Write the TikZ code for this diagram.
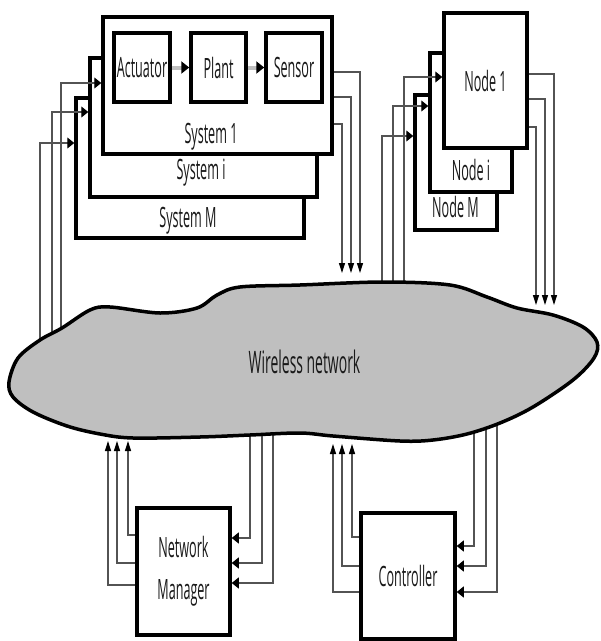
\documentclass[tikz,border=0pt]{standalone}
\usepackage{fontspec}
\setmainfont{Open Sans}[FakeStretch=0.45]
\usetikzlibrary{arrows.meta,positioning,calc}

\begin{document}
\begin{tikzpicture}[x=1pt, y=-1pt,
    box/.style={draw=black, fill=white, line width=3.5pt, inner sep=0pt, font=\fontsize{28}{42}\selectfont, text=gray!20!black, align=center},
    lbl/.style={font=\fontsize{28}{42}\selectfont, text=gray!20!black, anchor=base, inner sep=0pt},
    feed/.style={draw=gray!65!black, line width=1.2pt},
    hin/.style={-{Triangle[length=7pt, width=11pt, color=black]}},
    vin/.style={-{Triangle[length=10pt, width=6pt, color=black]}},
    sigflow/.style={draw=gray!50, line width=4pt, -{Triangle[length=8pt, width=12pt, color=black]}}
]
    \useasboundingbox (0,0) rectangle (601,641);

    % Stack of systems
    \node[box, minimum width=228pt, minimum height=140pt] (sysM) at (190,168) {};
    \node[box, minimum width=227pt, minimum height=139pt] (sysi) at (203.5,127.5) {};
    \node[box, minimum width=229pt, minimum height=137pt] (sys1) at (217.5,85.5) {};
    \node[lbl] (lsys1) at (211,143) {System 1};
    \node[lbl] (lsysi) at (201,179) {System i};
    \node[lbl] (lsysM) at (188,227) {System M};

    % Loop inside system 1
    \node[box, minimum width=56pt, minimum height=69pt] (act) at (142,67.5) {Actuator};
    \node[box, minimum width=55pt, minimum height=69pt] (plant) at (218.5,67.5) {Plant};
    \node[box, minimum width=56pt, minimum height=69pt] (sensor) at (294,67.5) {Sensor};
    \draw[sigflow] (act) -- (plant);
    \draw[sigflow] (plant) -- (sensor);

    % Stack of nodes
    \node[box, minimum width=82pt, minimum height=135pt] (nodeM) at (456,162.5) {};
    \node[box, minimum width=82pt, minimum height=139pt] (nodei) at (471,122.5) {};
    \node[box, minimum width=83pt, minimum height=135pt] (node1) at (485.5,80.5) {Node 1};
    \node[lbl] (lnodei) at (471,180) {Node i};
    \node[lbl] (lnodeM) at (455.5,217) {Node M};

    % Manager and controller
    \node[box, minimum width=93pt, minimum height=127pt] (nm) at (183.5,571.5) {Network\\Manager};
    \node[box, minimum width=94pt, minimum height=126pt] (ctl) at (408,576) {Controller};

    % Ends on the cloud
    \coordinate (si1) at (61,362);  \coordinate (si2) at (52,362);  \coordinate (si3) at (40,362);
    \coordinate (so1) at (360,273); \coordinate (so2) at (351,273); \coordinate (so3) at (342,273);
    \coordinate (ni1) at (404,362); \coordinate (ni2) at (393,362); \coordinate (ni3) at (382,362);
    \coordinate (no1) at (554,305); \coordinate (no2) at (545,305); \coordinate (no3) at (536,305);
    \coordinate (mo1) at (128,441); \coordinate (mo2) at (117,441); \coordinate (mo3) at (108,441);
    \coordinate (mi1) at (250,362); \coordinate (mi2) at (262,362); \coordinate (mi3) at (273,362);
    \coordinate (co1) at (352,444); \coordinate (co2) at (342,444); \coordinate (co3) at (333,444);
    \coordinate (ci1) at (474,362); \coordinate (ci2) at (486,362); \coordinate (ci3) at (497,362);

    % Systems <-> network
    \draw[feed, hin] (si1) |- ([yshift=2.5pt]sys1.west);
    \draw[feed, hin] (si2) |- ([yshift=15.5pt]sysi.west);
    \draw[feed, hin] (si3) |- ([yshift=25pt]sysM.west);
    \draw[feed, vin] ([yshift=13.5pt]sys1.east) -| (so1);
    \draw[feed, vin] ([yshift=-11.5pt]sys1.east) -| (so2);
    \draw[feed, vin] ([yshift=-38.5pt]sys1.east) -| (so3);

    % Nodes <-> network
    \draw[feed, hin] (ni1) |- ([yshift=3.5pt]node1.west);
    \draw[feed, hin] (ni2) |- ([yshift=16.5pt]nodei.west);
    \draw[feed, hin] (ni3) |- ([yshift=26.5pt]nodeM.west);
    \draw[feed, vin] ([yshift=6.5pt]node1.east) -| (no1);
    \draw[feed, vin] ([yshift=-18.5pt]node1.east) -| (no2);
    \draw[feed, vin] ([yshift=-46.5pt]node1.east) -| (no3);

    % Manager <-> network
    \draw[feed, vin] ([yshift=36.5pt]nm.west) -| (mo1);
    \draw[feed, vin] ([yshift=8.5pt]nm.west) -| (mo2);
    \draw[feed, vin] ([yshift=-13.5pt]nm.west) -| (mo3);
    \draw[feed, hin] (mi1) |- ([yshift=33.5pt]nm.east);
    \draw[feed, hin] (mi2) |- ([yshift=8.5pt]nm.east);
    \draw[feed, hin] (mi3) |- ([yshift=-11.5pt]nm.east);

    % Controller <-> network
    \draw[feed, vin] ([yshift=39pt]ctl.west) -| (co1);
    \draw[feed, vin] ([yshift=10pt]ctl.west) -| (co2);
    \draw[feed, vin] ([yshift=-16pt]ctl.west) -| (co3);
    \draw[feed, hin] (ci1) |- ([yshift=30pt]ctl.east);
    \draw[feed, hin] (ci2) |- ([yshift=10pt]ctl.east);
    \draw[feed, hin] (ci3) |- ([yshift=-16pt]ctl.east);

    % Wireless network cloud
    \draw[line width=3.5pt, fill=gray!50] plot[smooth cycle, tension=0.55] coordinates {
        (9,382) (18,358) (40,340) (62,328) (90,310) (110,307) (160,313) (197,308)
        (217,295) (240,287) (300,285) (383,282) (450,285) (487,297) (517,308)
        (553,315) (583,327) (597,342) (594,358) (573,380) (533,407) (500,423)
        (467,434) (433,440) (400,441) (333,436) (300,433) (250,435) (200,437)
        (133,438) (100,434) (67,426) (33,412) (13,397)};
    \node[lbl, font=\fontsize{31}{37}\selectfont] (net) at (304.5,373) {Wireless network};
\end{tikzpicture}
\end{document}
